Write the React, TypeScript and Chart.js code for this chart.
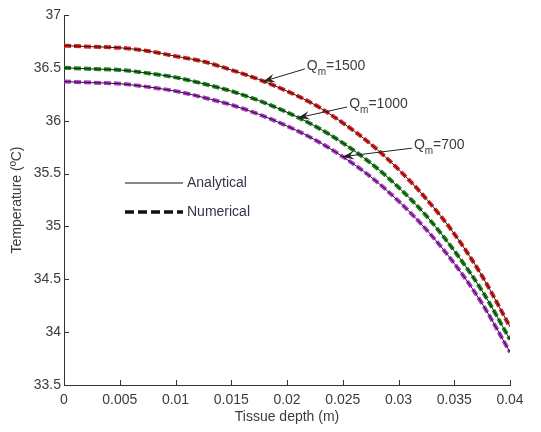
import React, { useEffect, useRef } from "react";
import { Chart, registerables } from "chart.js";

Chart.register(...registerables);

// Tissue depth (m) sample positions
const depth = [
  0, 0.0025, 0.005, 0.0075, 0.01, 0.0125, 0.015, 0.0175, 0.02, 0.0225, 0.025,
  0.0275, 0.03, 0.0325, 0.035, 0.0375, 0.04,
];

// Temperature (ºC) for each metabolic heat generation rate Qm
const analytical1500 = [
  36.71, 36.7, 36.69, 36.66, 36.61, 36.56, 36.48, 36.39, 36.28, 36.15, 35.98,
  35.78, 35.54, 35.26, 34.93, 34.53, 34.05,
];
const analytical1000 = [
  36.5, 36.49, 36.48, 36.45, 36.41, 36.35, 36.28, 36.19, 36.08, 35.95, 35.79,
  35.6, 35.37, 35.1, 34.77, 34.39, 33.93,
];
const analytical700 = [
  36.37, 36.36, 36.35, 36.32, 36.28, 36.22, 36.15, 36.06, 35.95, 35.82, 35.66,
  35.47, 35.24, 34.97, 34.65, 34.27, 33.81,
];

const numerical1500 = [
  36.71, 36.7, 36.69, 36.66, 36.61, 36.56, 36.48, 36.39, 36.28, 36.15, 35.98,
  35.78, 35.54, 35.26, 34.93, 34.53, 34.05,
];
const numerical1000 = [
  36.5, 36.49, 36.48, 36.45, 36.41, 36.35, 36.28, 36.19, 36.08, 35.95, 35.79,
  35.6, 35.37, 35.1, 34.77, 34.39, 33.93,
];
const numerical700 = [
  36.37, 36.36, 36.35, 36.32, 36.28, 36.22, 36.15, 36.06, 35.95, 35.82, 35.66,
  35.47, 35.24, 34.97, 34.65, 34.27, 33.81,
];

// Axis ticks
const xTicks = [0, 0.005, 0.01, 0.015, 0.02, 0.025, 0.03, 0.035, 0.04];
const yTicks = [33.5, 34, 34.5, 35, 35.5, 36, 36.5, 37];

// Curve annotations: Qm value, depth where the arrow touches the curve,
// and the (depth, temperature) where the label's leader line starts
const qmLabels = ["1500", "1000", "700"];
const qmCurves = [analytical1500, analytical1000, analytical700];
const arrowTipDepth = [0.0179, 0.021, 0.025];
const labelDepth = [0.0216, 0.0254, 0.0312];
const labelTemp = [36.49, 36.13, 35.74];

const seriesColors = ["#e41e1a", "#1a8a1a", "#b236d0"];
const textColor = "#3c3c3c";
const fontFamily = "'Liberation Sans', Arial, sans-serif";

const toPoints = (vals: number[]) => depth.map((d, i) => ({ x: d, y: vals[i] }));

const interp = (vals: number[], x: number) => {
  for (let i = 0; i < depth.length - 1; i++) {
    if (x >= depth[i] && x <= depth[i + 1]) {
      const t = (x - depth[i]) / (depth[i + 1] - depth[i]);
      return vals[i] + t * (vals[i + 1] - vals[i]);
    }
  }
  return vals[vals.length - 1];
};

const decorations = {
  id: "decorations",
  afterDatasetsDraw(chart: any) {
    const { ctx, chartArea, scales } = chart;
    const xs = scales.x;
    const ys = scales.y;
    ctx.save();

    // inward tick marks
    ctx.strokeStyle = "#333";
    ctx.lineWidth = 1;
    ctx.beginPath();
    xTicks.forEach((v) => {
      const px = Math.round(xs.getPixelForValue(v)) + 0.5;
      ctx.moveTo(px, chartArea.bottom);
      ctx.lineTo(px, chartArea.bottom - 5);
    });
    yTicks.forEach((v) => {
      const py = Math.round(ys.getPixelForValue(v)) + 0.5;
      ctx.moveTo(chartArea.left, py);
      ctx.lineTo(chartArea.left + 5, py);
    });
    ctx.stroke();

    // legend
    const lx = chartArea.left + 61;
    const ly1 = chartArea.top + 168;
    const ly2 = chartArea.top + 197;
    ctx.strokeStyle = "#111";
    ctx.lineWidth = 1;
    ctx.beginPath();
    ctx.moveTo(lx, ly1);
    ctx.lineTo(lx + 58, ly1);
    ctx.stroke();
    ctx.lineWidth = 3.5;
    ctx.setLineDash([9, 4]);
    ctx.beginPath();
    ctx.moveTo(lx, ly2);
    ctx.lineTo(lx + 58, ly2);
    ctx.stroke();
    ctx.setLineDash([]);
    ctx.fillStyle = "#34344a";
    ctx.font = `14px ${fontFamily}`;
    ctx.textBaseline = "middle";
    ctx.textAlign = "left";
    ctx.fillText("Analytical", lx + 62, ly1);
    ctx.fillText("Numerical", lx + 62, ly2);

    // Qm arrows and labels
    qmLabels.forEach((q, i) => {
      const tx = xs.getPixelForValue(arrowTipDepth[i]);
      const ty = ys.getPixelForValue(interp(qmCurves[i], arrowTipDepth[i]));
      const sx = xs.getPixelForValue(labelDepth[i]);
      const sy = ys.getPixelForValue(labelTemp[i]);
      ctx.strokeStyle = "#222";
      ctx.fillStyle = "#222";
      ctx.lineWidth = 1;
      ctx.beginPath();
      ctx.moveTo(sx, sy);
      ctx.lineTo(tx, ty);
      ctx.stroke();
      const ang = Math.atan2(ty - sy, tx - sx);
      const len = 12;
      const spread = 0.36;
      ctx.beginPath();
      ctx.moveTo(tx, ty);
      ctx.lineTo(tx - len * Math.cos(ang - spread), ty - len * Math.sin(ang - spread));
      ctx.lineTo(tx - len * 0.6 * Math.cos(ang), ty - len * 0.6 * Math.sin(ang));
      ctx.lineTo(tx - len * Math.cos(ang + spread), ty - len * Math.sin(ang + spread));
      ctx.closePath();
      ctx.fill();

      ctx.fillStyle = textColor;
      ctx.textBaseline = "alphabetic";
      let x = sx + 2;
      const base = sy + 1;
      ctx.font = `14px ${fontFamily}`;
      ctx.fillText("Q", x, base);
      x += ctx.measureText("Q").width;
      ctx.font = `10px ${fontFamily}`;
      ctx.fillText("m", x, base + 5);
      x += ctx.measureText("m").width;
      ctx.font = `14px ${fontFamily}`;
      ctx.fillText("=" + q, x, base);
    });

    ctx.restore();
  },
};

export default function App() {
  const canvasRef = useRef<HTMLCanvasElement | null>(null);

  useEffect(() => {
    document.body.style.margin = "0";
    const canvas = canvasRef.current;
    if (!canvas) return;

    const numericalSets = [numerical1500, numerical1000, numerical700].map((vals, i) => ({
      label: `Numerical Qm=${qmLabels[i]}`,
      data: toPoints(vals),
      borderColor: seriesColors[i],
      borderWidth: 4,
      borderDash: [7, 3],
      pointRadius: 0,
      cubicInterpolationMode: "monotone" as const,
      order: 2,
    }));
    const analyticalSets = [analytical1500, analytical1000, analytical700].map((vals, i) => ({
      label: `Analytical Qm=${qmLabels[i]}`,
      data: toPoints(vals),
      borderColor: "#161616",
      borderWidth: 1,
      pointRadius: 0,
      cubicInterpolationMode: "monotone" as const,
      order: 1,
    }));

    const chart = new Chart(canvas, {
      type: "line",
      data: { datasets: [...analyticalSets, ...numericalSets] },
      options: {
        animation: false,
        responsive: false,
        devicePixelRatio: 1,
        layout: { padding: { top: 15, right: 31, left: 0, bottom: 0 } },
        plugins: { legend: { display: false }, tooltip: { enabled: false } },
        scales: {
          x: {
            type: "linear",
            min: 0,
            max: 0.04,
            afterBuildTicks: (scale: any) => {
              scale.ticks = xTicks.map((v) => ({ value: v }));
            },
            afterFit: (scale: any) => {
              scale.height = 47;
            },
            grid: { display: false, drawTicks: false },
            border: { display: true, color: "#333", width: 1 },
            ticks: {
              padding: 7,
              color: textColor,
              font: { family: fontFamily, size: 14 },
              maxRotation: 0,
              autoSkip: false,
              callback: (v: any) => String(Number(Number(v).toFixed(4))),
            },
            title: {
              display: true,
              text: "Tissue depth (m)",
              color: textColor,
              font: { family: fontFamily, size: 14 },
              padding: { top: 0, bottom: 6 },
            },
          },
          y: {
            type: "linear",
            min: 33.5,
            max: 37,
            afterBuildTicks: (scale: any) => {
              scale.ticks = yTicks.map((v) => ({ value: v }));
            },
            afterFit: (scale: any) => {
              scale.width = 64;
            },
            grid: { display: false, drawTicks: false },
            border: { display: true, color: "#333", width: 1 },
            ticks: {
              padding: 3,
              color: textColor,
              font: { family: fontFamily, size: 14 },
              autoSkip: false,
              callback: (v: any) => String(Number(Number(v).toFixed(2))),
            },
            title: {
              display: true,
              text: "Temperature (ºC)",
              color: textColor,
              font: { family: fontFamily, size: 14 },
              padding: { top: 9, bottom: 0 },
            },
          },
        },
      },
      plugins: [decorations],
    });

    return () => chart.destroy();
  }, []);

  return (
    <div style={{ width: 541, height: 432, background: "#fff" }}>
      <canvas ref={canvasRef} width={541} height={432} style={{ display: "block" }} />
    </div>
  );
}
